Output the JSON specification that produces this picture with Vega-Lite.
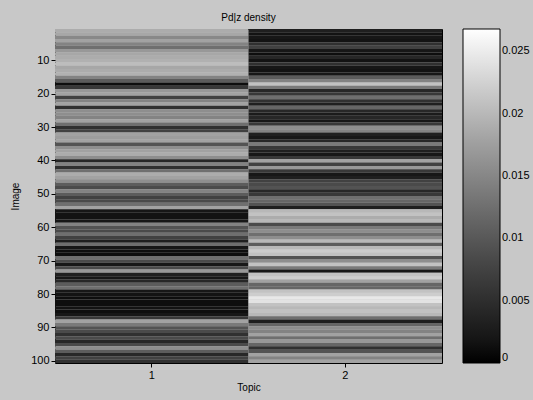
{
"$schema":"https://vega.github.io/schema/vega-lite/v6.json",
"autosize":{"type":"none"},
"width":387,"height":334,
"padding":{"left":55,"top":29,"right":91,"bottom":37},
"background":"#c8c8c8",
"title":{"text":"Pd|z density","fontSize":10,"fontWeight":"normal","font":"Liberation Sans","color":"black","offset":6},
"config":{"font":"Liberation Sans","view":{"stroke":"black","strokeWidth":1}},
"data":{"values":[
{"image":1,"topic":1,"p":0.0189},{"image":2,"topic":1,"p":0.0184},{"image":3,"topic":1,"p":0.0152},{"image":4,"topic":1,"p":0.0179},{"image":5,"topic":1,"p":0.0147},{"image":6,"topic":1,"p":0.0126},{"image":7,"topic":1,"p":0.0168},{"image":8,"topic":1,"p":0.0184},{"image":9,"topic":1,"p":0.0189},{"image":10,"topic":1,"p":0.0194},
{"image":11,"topic":1,"p":0.0205},{"image":12,"topic":1,"p":0.0184},{"image":13,"topic":1,"p":0.0189},{"image":14,"topic":1,"p":0.0194},{"image":15,"topic":1,"p":0.0147},{"image":16,"topic":1,"p":0.0105},{"image":17,"topic":1,"p":0.0011},{"image":18,"topic":1,"p":0.0063},{"image":19,"topic":1,"p":0.0168},{"image":20,"topic":1,"p":0.0179},
{"image":21,"topic":1,"p":0.0074},{"image":22,"topic":1,"p":0.0147},{"image":23,"topic":1,"p":0.0179},{"image":24,"topic":1,"p":0.0053},{"image":25,"topic":1,"p":0.0158},{"image":26,"topic":1,"p":0.0158},{"image":27,"topic":1,"p":0.0147},{"image":28,"topic":1,"p":0.0179},{"image":29,"topic":1,"p":0.0126},{"image":30,"topic":1,"p":0.0053},
{"image":31,"topic":1,"p":0.0074},{"image":32,"topic":1,"p":0.0179},{"image":33,"topic":1,"p":0.0173},{"image":34,"topic":1,"p":0.0179},{"image":35,"topic":1,"p":0.0095},{"image":36,"topic":1,"p":0.0158},{"image":37,"topic":1,"p":0.0179},{"image":38,"topic":1,"p":0.0189},{"image":39,"topic":1,"p":0.0158},{"image":40,"topic":1,"p":0.0042},
{"image":41,"topic":1,"p":0.0147},{"image":42,"topic":1,"p":0.0053},{"image":43,"topic":1,"p":0.0126},{"image":44,"topic":1,"p":0.0189},{"image":45,"topic":1,"p":0.0179},{"image":46,"topic":1,"p":0.0158},{"image":47,"topic":1,"p":0.0105},{"image":48,"topic":1,"p":0.0084},{"image":49,"topic":1,"p":0.0147},{"image":50,"topic":1,"p":0.0105},
{"image":51,"topic":1,"p":0.0074},{"image":52,"topic":1,"p":0.0084},{"image":53,"topic":1,"p":0.0126},{"image":54,"topic":1,"p":0.0179},{"image":55,"topic":1,"p":0.0021},{"image":56,"topic":1,"p":0.0016},{"image":57,"topic":1,"p":0.0016},{"image":58,"topic":1,"p":0.0021},{"image":59,"topic":1,"p":0.0147},{"image":60,"topic":1,"p":0.0095},
{"image":61,"topic":1,"p":0.0084},{"image":62,"topic":1,"p":0.0126},{"image":63,"topic":1,"p":0.0074},{"image":64,"topic":1,"p":0.0032},{"image":65,"topic":1,"p":0.0126},{"image":66,"topic":1,"p":0.0021},{"image":67,"topic":1,"p":0.0011},{"image":68,"topic":1,"p":0.0011},{"image":69,"topic":1,"p":0.0126},{"image":70,"topic":1,"p":0.0084},
{"image":71,"topic":1,"p":0.0021},{"image":72,"topic":1,"p":0.0084},{"image":73,"topic":1,"p":0.0168},{"image":74,"topic":1,"p":0.0032},{"image":75,"topic":1,"p":0.0021},{"image":76,"topic":1,"p":0.0042},{"image":77,"topic":1,"p":0.0105},{"image":78,"topic":1,"p":0.0126},{"image":79,"topic":1,"p":0.0021},{"image":80,"topic":1,"p":0.0016},
{"image":81,"topic":1,"p":0.0011},{"image":82,"topic":1,"p":0.0011},{"image":83,"topic":1,"p":0.0011},{"image":84,"topic":1,"p":0.0016},{"image":85,"topic":1,"p":0.0011},{"image":86,"topic":1,"p":0.0021},{"image":87,"topic":1,"p":0.0063},{"image":88,"topic":1,"p":0.0179},{"image":89,"topic":1,"p":0.0137},{"image":90,"topic":1,"p":0.0095},
{"image":91,"topic":1,"p":0.0084},{"image":92,"topic":1,"p":0.0053},{"image":93,"topic":1,"p":0.0084},{"image":94,"topic":1,"p":0.0042},{"image":95,"topic":1,"p":0.0084},{"image":96,"topic":1,"p":0.0158},{"image":97,"topic":1,"p":0.0105},{"image":98,"topic":1,"p":0.0042},{"image":99,"topic":1,"p":0.0074},{"image":100,"topic":1,"p":0.0053},
{"image":1,"topic":2,"p":0.0032},{"image":2,"topic":2,"p":0.0016},{"image":3,"topic":2,"p":0.0021},{"image":4,"topic":2,"p":0.0016},{"image":5,"topic":2,"p":0.0053},{"image":6,"topic":2,"p":0.0074},{"image":7,"topic":2,"p":0.0021},{"image":8,"topic":2,"p":0.0011},{"image":9,"topic":2,"p":0.0042},{"image":10,"topic":2,"p":0.0016},
{"image":11,"topic":2,"p":0.0053},{"image":12,"topic":2,"p":0.0021},{"image":13,"topic":2,"p":0.0016},{"image":14,"topic":2,"p":0.0021},{"image":15,"topic":2,"p":0.0105},{"image":16,"topic":2,"p":0.0147},{"image":17,"topic":2,"p":0.0210},{"image":18,"topic":2,"p":0.0137},{"image":19,"topic":2,"p":0.0042},{"image":20,"topic":2,"p":0.0063},
{"image":21,"topic":2,"p":0.0126},{"image":22,"topic":2,"p":0.0053},{"image":23,"topic":2,"p":0.0032},{"image":24,"topic":2,"p":0.0116},{"image":25,"topic":2,"p":0.0042},{"image":26,"topic":2,"p":0.0026},{"image":27,"topic":2,"p":0.0042},{"image":28,"topic":2,"p":0.0021},{"image":29,"topic":2,"p":0.0063},{"image":30,"topic":2,"p":0.0158},
{"image":31,"topic":2,"p":0.0147},{"image":32,"topic":2,"p":0.0032},{"image":33,"topic":2,"p":0.0021},{"image":34,"topic":2,"p":0.0042},{"image":35,"topic":2,"p":0.0137},{"image":36,"topic":2,"p":0.0063},{"image":37,"topic":2,"p":0.0032},{"image":38,"topic":2,"p":0.0021},{"image":39,"topic":2,"p":0.0063},{"image":40,"topic":2,"p":0.0179},
{"image":41,"topic":2,"p":0.0074},{"image":42,"topic":2,"p":0.0168},{"image":43,"topic":2,"p":0.0063},{"image":44,"topic":2,"p":0.0021},{"image":45,"topic":2,"p":0.0032},{"image":46,"topic":2,"p":0.0074},{"image":47,"topic":2,"p":0.0084},{"image":48,"topic":2,"p":0.0095},{"image":49,"topic":2,"p":0.0042},{"image":50,"topic":2,"p":0.0063},
{"image":51,"topic":2,"p":0.0126},{"image":52,"topic":2,"p":0.0116},{"image":53,"topic":2,"p":0.0095},{"image":54,"topic":2,"p":0.0032},{"image":55,"topic":2,"p":0.0200},{"image":56,"topic":2,"p":0.0210},{"image":57,"topic":2,"p":0.0189},{"image":58,"topic":2,"p":0.0200},{"image":59,"topic":2,"p":0.0084},{"image":60,"topic":2,"p":0.0137},
{"image":61,"topic":2,"p":0.0158},{"image":62,"topic":2,"p":0.0126},{"image":63,"topic":2,"p":0.0158},{"image":64,"topic":2,"p":0.0200},{"image":65,"topic":2,"p":0.0105},{"image":66,"topic":2,"p":0.0200},{"image":67,"topic":2,"p":0.0221},{"image":68,"topic":2,"p":0.0210},{"image":69,"topic":2,"p":0.0095},{"image":70,"topic":2,"p":0.0158},
{"image":71,"topic":2,"p":0.0210},{"image":72,"topic":2,"p":0.0137},{"image":73,"topic":2,"p":0.0021},{"image":74,"topic":2,"p":0.0210},{"image":75,"topic":2,"p":0.0221},{"image":76,"topic":2,"p":0.0179},{"image":77,"topic":2,"p":0.0116},{"image":78,"topic":2,"p":0.0116},{"image":79,"topic":2,"p":0.0210},{"image":80,"topic":2,"p":0.0221},
{"image":81,"topic":2,"p":0.0247},{"image":82,"topic":2,"p":0.0242},{"image":83,"topic":2,"p":0.0210},{"image":84,"topic":2,"p":0.0200},{"image":85,"topic":2,"p":0.0210},{"image":86,"topic":2,"p":0.0200},{"image":87,"topic":2,"p":0.0126},{"image":88,"topic":2,"p":0.0032},{"image":89,"topic":2,"p":0.0116},{"image":90,"topic":2,"p":0.0158},
{"image":91,"topic":2,"p":0.0147},{"image":92,"topic":2,"p":0.0179},{"image":93,"topic":2,"p":0.0126},{"image":94,"topic":2,"p":0.0168},{"image":95,"topic":2,"p":0.0116},{"image":96,"topic":2,"p":0.0053},{"image":97,"topic":2,"p":0.0095},{"image":98,"topic":2,"p":0.0179},{"image":99,"topic":2,"p":0.0147},{"image":100,"topic":2,"p":0.0179}
]},
"mark":{"type":"rect"},
"encoding":{
"x":{"field":"topic","type":"ordinal","scale":{"paddingInner":0,"paddingOuter":0},"axis":{"title":"Topic","labelAngle":0,"labelFontSize":11,"titleFontSize":10,"titleFontWeight":"normal","labelColor":"black","titleColor":"black","tickColor":"black","domain":false,"tickSize":4,"labelPadding":2,"titlePadding":2}},
"y":{"field":"image","type":"ordinal","scale":{"paddingInner":0,"paddingOuter":0},"axis":{"title":"Image","values":[10,20,30,40,50,60,70,80,90,100],"labelFontSize":11,"titleFontSize":10,"titleFontWeight":"normal","labelColor":"black","titleColor":"black","tickColor":"black","domain":false,"tickSize":4,"labelPadding":2,"titlePadding":10}},
"color":{"field":"p","type":"quantitative","scale":{"type":"linear","domain":[0,0.0268],"range":["black","white"]},"legend":{"title":null,"orient":"right","offset":21,"gradientLength":334,"gradientThickness":37,"values":[0,0.005,0.01,0.015,0.02,0.025],"labelExpr":"'' + datum.value","labelFontSize":11,"labelColor":"black","gradientStrokeColor":"black","gradientStrokeWidth":1,"padding":0,"labelOffset":2}}
}
}
